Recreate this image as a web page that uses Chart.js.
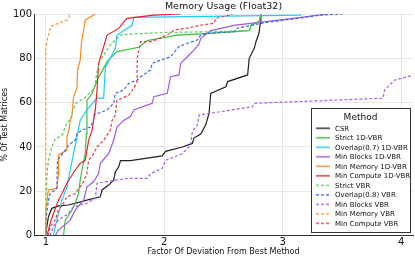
<!DOCTYPE html>
<html>
<head>
<meta charset="utf-8">
<title>Memory Usage</title>
<script src="https://cdn.jsdelivr.net/npm/chart.js@4.4.0/dist/chart.umd.min.js"></script>
<style>
  body { margin: 0; background: #fff; }
  #wrap { width: 415px; height: 260px; }
</style>
</head>
<body>
<div id="wrap"><canvas id="myChart"></canvas></div>
<script>
// series data: [factor, % of test matrices]
const csr = [[1.0,0],[1.008,4],[1.022,8.5],[1.05,12.3],[1.107,13.4],[1.19,13.8],[1.263,14.8],[1.347,16],[1.46,17.5],[1.475,20.6],[1.53,22.8],[1.573,25],[1.587,28.8],[1.615,31],[1.63,33.8],[1.714,33.8],[1.983,36],[2.011,38],[2.153,40],[2.237,41.6],[2.25,44],[2.308,45.8],[2.35,50],[2.378,55.2],[2.392,64.2],[2.52,67.2],[2.535,69.5],[2.704,72.5],[2.717,80],[2.76,84.5],[2.774,87.5],[2.8,91.4],[2.81,95.8],[2.816,100]];
const strict1d = [[1.149,0],[1.164,7],[1.22,11.5],[1.248,14.6],[1.276,19],[1.29,25],[1.305,29.6],[1.333,37],[1.342,46],[1.347,61],[1.39,64],[1.432,70],[1.517,78.5],[1.6,83],[1.785,85],[1.856,88],[2.11,90.5],[2.392,91.3],[2.717,92.5],[2.731,95],[2.8,96.5],[2.816,100]];
const overlap1d = [[1.064,0],[1.079,4],[1.107,10],[1.136,16],[1.178,22],[1.206,29.6],[1.234,37],[1.263,44.6],[1.29,52],[1.347,56.7],[1.432,62],[1.488,62],[1.503,76],[1.587,84.5],[1.6,90.5],[1.73,95],[1.742,98.5],[3.15,99.5],[3.155,100]];
const minBlocks1d = [[1.079,0],[1.107,2.5],[1.206,7],[1.248,11.5],[1.319,16],[1.347,22],[1.403,24.3],[1.446,28],[1.46,32.6],[1.53,37],[1.573,43],[1.587,46],[1.6,49],[1.657,52],[1.714,53.7],[1.742,56.7],[1.898,59.7],[1.912,62.7],[2.025,64.2],[2.053,71.7],[2.124,72.5],[2.138,77.7],[2.195,80.7],[2.25,83.7],[2.293,86.5],[2.308,89],[2.392,92.5],[2.6,95],[3.0,97.5],[3.381,100]];
const minMem1d = [[1.0,0],[1.0,12],[1.022,20.6],[1.093,21.3],[1.107,28],[1.107,36.4],[1.178,38.6],[1.178,44.6],[1.197,48.4],[1.206,52],[1.22,53.7],[1.234,62.7],[1.263,66.5],[1.268,74.7],[1.29,79.2],[1.3,86.8],[1.333,97.3],[1.418,100]];
const minComp1d = [[1.008,0],[1.022,2.5],[1.036,5.5],[1.064,10],[1.107,16],[1.136,19],[1.178,23.6],[1.248,29.6],[1.29,32.6],[1.333,34],[1.361,43],[1.39,47.6],[1.403,52],[1.418,56.7],[1.432,65.7],[1.446,77.7],[1.517,90.5],[1.615,93.5],[1.672,97.3],[1.686,98],[1.912,99.5],[2.138,100]];
const strictVbr = [[1.0,0],[1.008,14.6],[1.008,26.6],[1.022,34],[1.05,40],[1.079,43.5],[1.14,45.5],[1.17,50],[1.212,53],[1.225,56],[1.254,59.7],[1.325,62],[1.353,63.4],[1.41,66.5],[1.432,74],[1.46,79.2],[1.488,81.5],[1.545,86],[1.6,89],[1.63,90.5],[1.742,91],[2.025,91.7],[2.392,92],[2.717,92.5],[2.75,95],[2.8,97],[2.816,100]];
const overlapVbr = [[1.0,0],[1.0,7],[1.022,16],[1.036,19],[1.093,21.3],[1.098,34],[1.121,35.6],[1.164,38.6],[1.192,40.9],[1.248,43],[1.263,46],[1.305,47.6],[1.375,49],[1.403,52],[1.403,54.4],[1.517,56.7],[1.573,59.7],[1.587,64.2],[1.657,65.7],[1.7,68.7],[1.771,70.2],[1.8,71.7],[1.884,74.7],[1.898,77.7],[1.969,79.2],[2.053,80.7],[2.124,85.3],[2.195,86.8],[2.28,88.3],[2.308,90.5],[2.392,91.5],[2.587,92],[2.619,93.6],[2.816,95.8],[3.325,99.5],[3.508,100]];
const minBlocksVbr = [[1.036,0],[1.064,4],[1.107,7],[1.19,10],[1.234,13],[1.347,14.6],[1.418,16.8],[1.432,23.6],[1.587,25],[1.686,25.8],[1.856,25.8],[1.884,28],[1.983,30.4],[2.011,34],[2.153,37],[2.223,40.9],[2.237,47],[2.28,50],[2.293,54.4],[2.746,58.2],[2.76,59.7],[3.847,62],[3.86,65.7],[3.945,70.2],[4.115,72.5]];
const minMemVbr = [[1.0,0],[1.0,84],[1.014,89],[1.028,91.4],[1.042,94.5],[1.18,97.3],[1.197,98.5],[1.2,100]];
const minCompVbr = [[1.022,0],[1.036,4],[1.079,7],[1.107,11.5],[1.149,14.6],[1.178,17.5],[1.248,19],[1.29,22],[1.319,24.3],[1.347,28],[1.361,34],[1.403,37],[1.432,40],[1.488,43],[1.545,47.6],[1.559,52],[1.587,54.4],[1.6,61],[1.7,63.4],[1.742,66.5],[1.771,69.5],[1.771,80],[1.8,87.5],[1.884,87.5],[1.927,88.3],[2.053,91.3],[2.082,92.8],[2.195,93.6],[2.308,95],[2.42,95.8],[2.435,98],[2.548,99.5],[2.576,100]];

const seriesNames = ['CSR', 'Strict 1D-VBR', 'Overlap(0.7) 1D-VBR', 'Min Blocks 1D-VBR', 'Min Memory 1D-VBR', 'Min Compute 1D-VBR',
  'Strict VBR', 'Overlap(0.8) VBR', 'Min Blocks VBR', 'Min Memory VBR', 'Min Compute VBR'];
const seriesData = [csr, strict1d, overlap1d, minBlocks1d, minMem1d, minComp1d, strictVbr, overlapVbr, minBlocksVbr, minMemVbr, minCompVbr];
const seriesColors = ['#222222', '#3cbf3c', '#1ecbf5', '#a057f0', '#ff8a1c', '#ee2226',
  '#5ccc5c', '#3a68ee', '#a462f2', '#ff9a38', '#ee3a46'];
const xTicks = [1, 2, 3, 4];
const yTicks = [0, 20, 40, 60, 80, 100];

const FONT = 'DejaVu Sans';

const datasets = seriesData.map(function (pts, i) {
    return {
        label: seriesNames[i],
        data: pts.map(p => ({ x: p[0], y: p[1] })),
        borderColor: seriesColors[i],
        borderWidth: 1.2,
        borderDash: i >= 6 ? [3, 2] : [],
        pointRadius: 0,
        fill: false,
        tension: 0,
        order: seriesData.length - i
    };
});

// legend drawn inside the plot, like the original
const boxLegend = {
    id: 'boxLegend',
    afterDatasetsDraw(chart) {
        const ctx = chart.ctx;
        const x0 = 311, y0 = 108, w = 99, h = 124;
        ctx.save();
        ctx.fillStyle = '#fff';
        ctx.fillRect(x0, y0, w, h);
        ctx.strokeStyle = '#333';
        ctx.lineWidth = 1;
        ctx.strokeRect(x0 + 0.5, y0 + 0.5, w, h);
        ctx.fillStyle = '#111';
        ctx.font = '9px "' + FONT + '"';
        ctx.textAlign = 'center';
        ctx.textBaseline = 'middle';
        ctx.fillText('Method', x0 + w / 2, 118);
        ctx.font = '7px "' + FONT + '"';
        ctx.textAlign = 'left';
        chart.data.datasets.forEach(function (ds, i) {
            const y = 128.3 + i * 9.5;
            ctx.beginPath();
            ctx.strokeStyle = ds.borderColor;
            ctx.globalAlpha = 0.75;
            ctx.lineWidth = 1.8;
            ctx.setLineDash(i >= 6 ? [3, 2] : []);
            ctx.moveTo(316, y);
            ctx.lineTo(330, y);
            ctx.stroke();
            ctx.globalAlpha = 1;
            ctx.setLineDash([]);
            ctx.fillStyle = '#111';
            ctx.fillText(ds.label, 335, y + 0.5);
        });
        ctx.restore();
    }
};

const config = {
    type: 'line',
    data: { datasets: datasets },
    options: {
        responsive: true,
        maintainAspectRatio: false,
        animation: false,
        layout: { padding: { left: 0, right: 2, top: 0, bottom: 0 } },
        plugins: {
            legend: { display: false },
            tooltip: { enabled: false },
            title: {
                display: true,
                fullSize: false,
                text: 'Memory Usage (Float32)',
                color: '#111',
                font: { family: FONT, size: 9.5, weight: 'normal' },
                padding: { top: 1, bottom: 1.6 }
            }
        },
        scales: {
            x: {
                type: 'linear',
                min: 0.9,
                max: 4.1,
                afterBuildTicks: s => { s.ticks = xTicks.map(v => ({ value: v })); },
                afterFit: s => { s.height = 24.4; },
                ticks: { color: '#111', font: { family: FONT, size: 10 }, padding: 1, maxRotation: 0 },
                grid: { color: 'rgba(0,0,0,0.09)', drawTicks: false },
                border: { display: true, color: '#333', width: 1 },
                title: {
                    display: true,
                    text: 'Factor Of Deviation From Best Method',
                    color: '#111',
                    font: { family: FONT, size: 8 },
                    padding: { top: 0, bottom: 3 }
                }
            },
            y: {
                type: 'linear',
                min: 0,
                max: 100,
                afterBuildTicks: s => { s.ticks = yTicks.map(v => ({ value: v })); },
                afterFit: s => { s.width = 34; },
                ticks: { color: '#111', font: { family: FONT, size: 10 }, padding: 2 },
                grid: { color: 'rgba(0,0,0,0.09)', drawTicks: false },
                border: { display: true, color: '#333', width: 1 },
                title: {
                    display: true,
                    text: '% Of Test Matrices',
                    color: '#111',
                    font: { family: FONT, size: 8 },
                    padding: { top: 0.5, bottom: 0 }
                }
            }
        }
    },
    plugins: [boxLegend]
};

const myChart = new Chart(document.getElementById('myChart'), config);
</script>
</body>
</html>
